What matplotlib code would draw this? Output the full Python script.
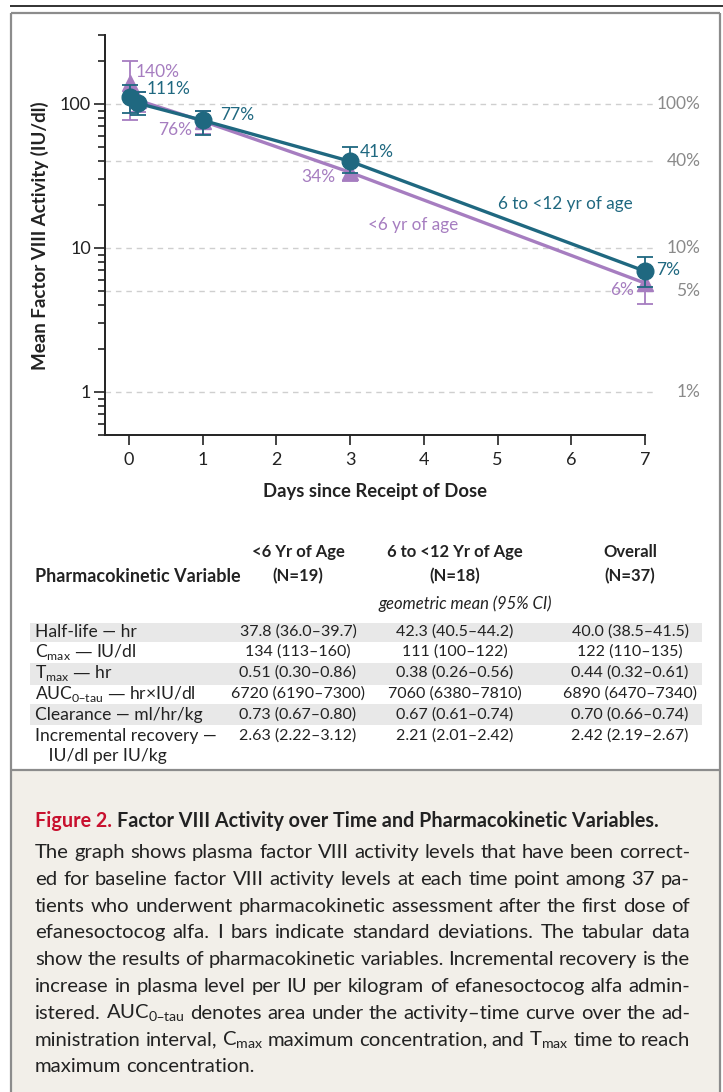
import matplotlib
matplotlib.use("Agg")
import matplotlib.pyplot as plt
from matplotlib import font_manager
from matplotlib.ticker import LogLocator, NullFormatter, FixedLocator, FixedFormatter
from matplotlib.lines import Line2D
from matplotlib.patches import Rectangle
import numpy as np

# ---------------- data ----------------
days = [0.0104, 0.125, 1, 3, 7]
young_mean = [140, 106, 76, 33.5, 5.7]      # <6 yr of age
young_hi = [200, 122, 90, 38, 7.2]
young_lo = [78, 88, 62, 29, 4.1]
older_mean = [111, 101, 77, 40, 6.9]        # 6 to <12 yr of age
older_hi = [135, 122, 90, 50, 8.7]
older_lo = [87, 84, 61, 33, 5.4]

young_point_labels = {0: "140%", 2: "76%", 3: "34%", 4: "6%"}
older_point_labels = {0: "111%", 2: "77%", 3: "41%", 4: "7%"}

pct_levels = [100, 40, 10, 5, 1]
pct_labels = ["100%", "40%", "10%", "5%", "1%"]
y_major = [1, 10, 100]
y_major_labels = ["1", "10", "100"]
x_ticks = [0, 1, 2, 3, 4, 5, 6, 7]

table_cols = ["<6 Yr of Age\n(N=19)", "6 to <12 Yr of Age\n(N=18)", "Overall\n(N=37)"]
table_rows = [
    "Half-life \u2014 hr",
    "C$_\\mathregular{max}$ \u2014 IU/dl",
    "T$_\\mathregular{max}$ \u2014 hr",
    "AUC$_\\mathregular{0\u2013tau}$ \u2014 hr\u00d7IU/dl",
    "Clearance \u2014 ml/hr/kg",
    "Incremental recovery \u2014\n   IU/dl per IU/kg",
]
table_vals = [
    ["37.8 (36.0\u201339.7)", "42.3 (40.5\u201344.2)", "40.0 (38.5\u201341.5)"],
    ["134 (113\u2013160)", "111 (100\u2013122)", "122 (110\u2013135)"],
    ["0.51 (0.30\u20130.86)", "0.38 (0.26\u20130.56)", "0.44 (0.32\u20130.61)"],
    ["6720 (6190\u20137300)", "7060 (6380\u20137810)", "6890 (6470\u20137340)"],
    ["0.73 (0.67\u20130.80)", "0.67 (0.61\u20130.74)", "0.70 (0.66\u20130.74)"],
    ["2.63 (2.22\u20133.12)", "2.21 (2.01\u20132.42)", "2.42 (2.19\u20132.67)"],
]

caption_lines = [
    "The graph shows plasma factor VIII activity levels that have been correct-",
    "ed for baseline factor VIII activity levels at each time point among 37 pa-",
    "tients who underwent pharmacokinetic assessment after the first dose of",
    "efanesoctocog alfa. I bars indicate standard deviations. The tabular data",
    "show the results of pharmacokinetic variables. Incremental recovery is the",
    "increase in plasma level per IU per kilogram of efanesoctocog alfa admin-",
    "istered. AUC$_\\mathregular{0\u2013tau}$ denotes area under the activity\u2013time curve over the ad-",
    "ministration interval, C$_\\mathregular{max}$ maximum concentration, and T$_\\mathregular{max}$ time to reach",
    "maximum concentration.",
]

# ---------------- fonts / colours ----------------
names = {f.name for f in font_manager.fontManager.ttflist}
MAIN = "Lato" if "Lato" in names else "DejaVu Sans"
TEAL = "#1f6880"
PURPLE = "#a67dc0"
GRAY = "#8c8c8c"
INK = "#222222"

W, H = 723, 1092
fig = plt.figure(figsize=(W / 100, H / 100), dpi=100)
renderer = fig.canvas.get_renderer()


def fx(px):
    return px / W


def fy(py):
    return 1 - py / H


# ---------------- frame ----------------
fig.patches.append(Rectangle((fx(11), fy(1092)), fx(720) - fx(11), fy(770) - fy(1092),
                             transform=fig.transFigure, facecolor="#f2efe9", edgecolor="none", zorder=0))
for (x0, y0, x1, y1, c, lw) in [
    (10, 6, 723, 6, INK, 1.3),
    (11, 13, 720, 13, GRAY, 1.6),
    (11, 13, 11, 1092, GRAY, 1.6),
    (720, 13, 720, 1092, GRAY, 1.6),
    (11, 770, 720, 770, GRAY, 1.6),
]:
    fig.add_artist(Line2D([fx(x0), fx(x1)], [fy(y0), fy(y1)], transform=fig.transFigure,
                          color=c, lw=lw, solid_capstyle="butt"))

# ---------------- chart ----------------
ax = fig.add_axes([fx(105), fy(435.3), (645 - 105) / W, 400 / H])
ax.set_yscale("log")
ax.set_xlim(-0.3256, 7)
ax.set_ylim(0.5, 300)
for s in ["top", "right"]:
    ax.spines[s].set_visible(False)
for s in ["left", "bottom"]:
    ax.spines[s].set_linewidth(1.4)
    ax.spines[s].set_color(INK)

ax.yaxis.set_major_locator(FixedLocator(y_major))
ax.yaxis.set_major_formatter(FixedFormatter(y_major_labels))
ax.yaxis.set_minor_locator(LogLocator(base=10, subs=np.arange(2, 10)))
ax.yaxis.set_minor_formatter(NullFormatter())
ax.set_xticks(x_ticks)
ax.set_xticklabels([str(t) for t in x_ticks])
ax.tick_params(axis="y", which="major", direction="out", length=8, width=1.2, color=INK,
               labelsize=13, pad=2)
ax.tick_params(axis="y", which="minor", direction="out", length=5, width=1.2, color=INK)
ax.tick_params(axis="x", which="major", direction="out", length=7, width=1.2, color=INK,
               labelsize=13, pad=5)
for lab in ax.get_xticklabels() + ax.get_yticklabels():
    lab.set_fontfamily(MAIN)
    lab.set_color(INK)

# gridlines (extend past the axis toward the percent labels)
for lv, lb in zip(pct_levels, pct_labels):
    ax.plot([-0.3256, 7.15], [lv, lv], ls=(0, (4, 3.5)), color="#cfcfcf", lw=1.0, clip_on=False, zorder=1)
    ax.text(7.75, lv, lb, ha="right", va="center", fontsize=12.5, color="#8a8a8a", family=MAIN,
            clip_on=False)

ax.set_ylabel("Mean Factor VIII Activity (IU/dl)", fontsize=13.5, fontweight="bold", family=MAIN,
              labelpad=8, color=INK)
ax.set_xlabel("Days since Receipt of Dose", fontsize=13.3, fontweight="bold", family=MAIN,
              labelpad=11, color=INK)


def draw_series(mean, hi, lo, color, marker, ms, z):
    mean = np.array(mean, float)
    yerr = [mean - np.array(lo), np.array(hi) - mean]
    ax.errorbar(days, mean, yerr=yerr, fmt="none", ecolor=color, elinewidth=1.3, capsize=5.5,
                capthick=1.3, clip_on=False, zorder=z)
    ax.plot(days, mean, color=color, lw=2.4, zorder=z + 0.1, clip_on=False)
    ax.plot(days, mean, ls="none", marker=marker, ms=ms, color=color, zorder=z + 0.2, clip_on=False)


draw_series(young_mean, young_hi, young_lo, PURPLE, "^", 11, 3)
draw_series(older_mean, older_hi, older_lo, TEAL, "o", 12, 4)

young_offsets = {0: (6, 11, "left"), 2: (-11, -9, "right"), 3: (-15, -5, "right"), 4: (-11, -7, "right")}
older_offsets = {0: (17, 8, "left"), 2: (17, 5, "left"), 3: (10, 9, "left"), 4: (11, 1, "left")}
for labels, offs, vals, col in [(young_point_labels, young_offsets, young_mean, PURPLE),
                                (older_point_labels, older_offsets, older_mean, TEAL)]:
    for i, txt in labels.items():
        dx, dy, ha = offs[i]
        ax.annotate(txt, xy=(days[i], vals[i]), xytext=(dx * 0.72, dy * 0.72), textcoords="offset points",
                    ha=ha, va="center", fontsize=12.5, color=col, family=MAIN, zorder=6,
                    annotation_clip=False)

ax.text(5.92, 20.2, "6 to <12 yr of age", color=TEAL, fontsize=12.3, family=MAIN, ha="center", va="center")
ax.text(3.85, 14.5, "<6 yr of age", color=PURPLE, fontsize=12.3, family=MAIN, ha="center", va="center")

# ---------------- table ----------------
for yb0, yb1 in [(623, 642), (663, 685), (704, 725)]:
    fig.patches.append(Rectangle((fx(30), fy(yb1)), fx(702) - fx(30), fy(yb0) - fy(yb1),
                                 transform=fig.transFigure, facecolor="#e8e8e8", edgecolor="none", zorder=0))

col_x = [298, 455, 630]
for cx, head in zip(col_x, table_cols):
    l1, l2 = head.split("\n")
    fig.text(fx(cx), fy(552), l1, ha="center", va="center", fontsize=12, fontweight="bold", family=MAIN,
             color=INK)
    fig.text(fx(cx), fy(576), l2, ha="center", va="center", fontsize=12, fontweight="bold", family=MAIN,
             color=INK)
fig.text(fx(35), fy(576), "Pharmacokinetic Variable", ha="left", va="center", fontsize=13,
         fontweight="bold", family=MAIN, color=INK)
fig.text(fx(465), fy(604), "geometric mean (95% CI)", ha="center", va="center", fontsize=12,
         style="italic", family=MAIN, color=INK)

row_y = [632, 652, 673, 694, 715, 736]
for ry, rl, vals in zip(row_y, table_rows, table_vals):
    lines = rl.split("\n")
    fig.text(fx(35), fy(ry), lines[0], ha="left", va="center", fontsize=12.6, family=MAIN, color=INK)
    if len(lines) > 1:
        fig.text(fx(35), fy(ry + 20), lines[1], ha="left", va="center", fontsize=12.6, family=MAIN,
                 color=INK)
    for cx, v in zip(col_x, vals):
        fig.text(fx(cx), fy(ry), v, ha="center", va="center", fontsize=11.5, family=MAIN, color=INK)

# ---------------- caption ----------------
t0 = fig.text(fx(35), fy(821), "Figure 2.", ha="left", va="center", fontsize=14.2, fontweight="bold",
              family=MAIN, color="#c8102e")
wfig = t0.get_window_extent(renderer).width
fig.text(fx(35) + (wfig + 5) / W, fy(821), "Factor VIII Activity over Time and Pharmacokinetic Variables.",
         ha="left", va="center", fontsize=14.2, fontweight="bold", family=MAIN, color=INK)


def measure(s, fs):
    t = fig.text(0, 0, s, fontsize=fs, family=MAIN)
    w = t.get_window_extent(renderer).width
    t.remove()
    return w


def natural_width(line, fs):
    words = line.split(" ")
    sp = measure("x x", fs) - measure("xx", fs)
    return sum(measure(w, fs) for w in words) + sp * (len(words) - 1)


CFS = 12.5
CFS *= 660 / natural_width(caption_lines[4], CFS)
space_w = measure("x x", CFS) - measure("xx", CFS)

cap_y0 = 852
for i, line in enumerate(caption_lines):
    y = cap_y0 + i * 26.8
    words = line.split(" ")
    texts = [fig.text(0, fy(y + 6), w, fontsize=CFS, family=MAIN, color=INK, va="baseline")
             for w in words]
    widths = [t.get_window_extent(renderer).width for t in texts]
    last = i == len(caption_lines) - 1
    gap = space_w if last else (690 - 35 - sum(widths)) / (len(words) - 1)
    x = 35
    for t, w in zip(texts, widths):
        t.set_x(fx(x))
        x += w + gap

fig.savefig("out.png", dpi=100)
